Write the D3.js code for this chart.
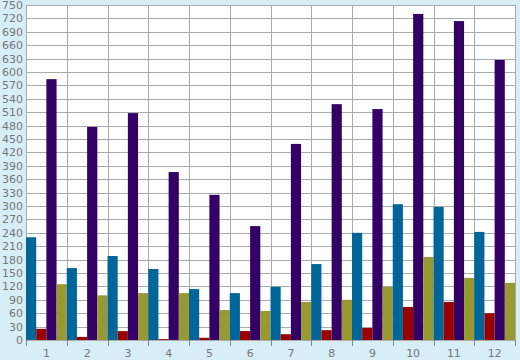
<!DOCTYPE html>
<html>
<head>
<meta charset="utf-8">
<script src="https://cdn.jsdelivr.net/npm/d3@7"></script>
<style>
  body { margin: 0; background: #d8eef6; }
  svg { display: block; }
  .tick text { font-family: "DejaVu Sans", Verdana, sans-serif; font-size: 11px; fill: #777; }
</style>
</head>
<body>
<svg id="chart"></svg>
<script>
// Data
const months = ["1", "2", "3", "4", "5", "6", "7", "8", "9", "10", "11", "12"];
const seriesBlue   = [230, 161, 188, 159, 114, 105, 119, 170, 240, 304, 298, 242];
const seriesRed    = [25, 7, 20, 2, 5, 20, 13, 22, 27, 74, 85, 60];
const seriesPurple = [584, 477, 508, 376, 325, 255, 439, 528, 517, 730, 714, 627];
const seriesOlive  = [125, 100, 105, 105, 67, 65, 85, 90, 119, 186, 139, 128];
const seriesColors = ["#006699", "#990000", "#330066", "#999933"];
const yTicks = d3.range(0, 751, 30);

const allSeries = [seriesBlue, seriesRed, seriesPurple, seriesOlive];

// Dimensions and margins
const margin = { top: 5, right: 5, bottom: 20, left: 26 };
const width = 520 - margin.left - margin.right;
const height = 360 - margin.top - margin.bottom;

const svg = d3.select("#chart")
  .attr("width", width + margin.left + margin.right)
  .attr("height", height + margin.top + margin.bottom)
  .append("g")
  .attr("transform", `translate(${margin.left},${margin.top})`);

// Scales
const xScale = d3.scaleBand()
  .domain(months)
  .range([0, width])
  .padding(0);

const xInner = d3.scaleBand()
  .domain(d3.range(allSeries.length))
  .range([0, xScale.bandwidth()])
  .padding(0);

const yScale = d3.scaleLinear()
  .domain([0, 750])
  .range([height, 0]);

// Plot background
svg.append("rect")
  .attr("width", width)
  .attr("height", height)
  .attr("fill", "#fff");

// Horizontal grid
svg.append("g")
  .selectAll("line")
  .data(yTicks)
  .enter()
  .append("line")
  .attr("x1", 0)
  .attr("x2", width)
  .attr("y1", d => Math.round(yScale(d)) + 0.5)
  .attr("y2", d => Math.round(yScale(d)) + 0.5)
  .attr("stroke", "#aaa");

// Vertical grid at band edges
const edges = months.map(m => xScale(m)).concat([width]);
svg.append("g")
  .selectAll("line")
  .data(edges)
  .enter()
  .append("line")
  .attr("x1", d => Math.round(d) + 0.5)
  .attr("x2", d => Math.round(d) + 0.5)
  .attr("y1", 0)
  .attr("y2", height)
  .attr("stroke", "#aaa");

// Bars
const rows = months.map((m, i) => ({ month: m, values: allSeries.map(s => s[i]) }));

svg.selectAll(".group")
  .data(rows)
  .enter()
  .append("g")
  .attr("class", "group")
  .attr("transform", d => `translate(${xScale(d.month)},0)`)
  .selectAll("rect")
  .data(d => d.values.map((v, k) => ({ k, v })))
  .enter()
  .append("rect")
  .attr("x", d => xInner(d.k))
  .attr("width", xInner.bandwidth())
  .attr("y", d => yScale(d.v))
  .attr("height", d => height - yScale(d.v))
  .attr("fill", d => seriesColors[d.k]);

// Axes
const yAxis = d3.axisLeft(yScale)
  .tickValues(yTicks)
  .tickSize(0)
  .tickPadding(3);

svg.append("g")
  .attr("id", "y-axis")
  .call(yAxis)
  .call(g => g.select(".domain").remove());

const xAxis = d3.axisBottom(xScale)
  .tickSize(0)
  .tickPadding(9);

svg.append("g")
  .attr("id", "x-axis")
  .attr("transform", `translate(0, ${height})`)
  .call(xAxis)
  .call(g => g.select(".domain").remove());

// Tick marks below the axis at band edges
svg.append("g")
  .selectAll("line")
  .data(edges)
  .enter()
  .append("line")
  .attr("x1", d => Math.round(d) + 0.5)
  .attr("x2", d => Math.round(d) + 0.5)
  .attr("y1", height)
  .attr("y2", height + 6)
  .attr("stroke", "#888");
</script>
</body>
</html>
